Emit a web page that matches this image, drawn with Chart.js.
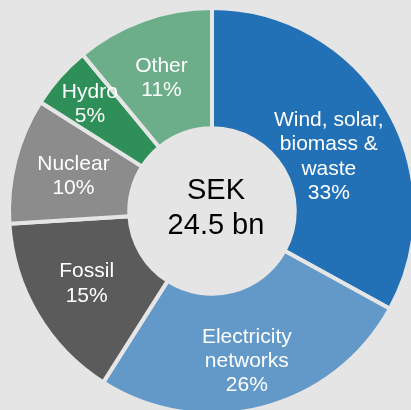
<!DOCTYPE html>
<html>
<head>
<meta charset="utf-8">
<script src="https://cdn.jsdelivr.net/npm/chart.js@4/dist/chart.umd.min.js"></script>
<style>
  html, body { margin: 0; padding: 0; background: #e5e5e5; }
  canvas { display: block; }
</style>
</head>
<body>
<canvas id="spendChart" width="411" height="410"></canvas>
<script>
const categories = [
  ['Wind, solar,', 'biomass &', 'waste'],
  ['Electricity', 'networks'],
  ['Fossil'],
  ['Nuclear'],
  ['Hydro'],
  ['Other'],
]
const shares = [33, 26, 15, 10, 5, 11]
const totalLabel = ['SEK', '24.5 bn']

const sliceColors = ['#2270b6', '#6399c8', '#5b5b5b', '#8c8c8c', '#2e8f59', '#6dae8a']
const fontFamily = "'Liberation Sans', Arial, sans-serif"

const sliceLabels = {
  id: 'sliceLabels',
  afterDatasetsDraw(chart, args, opts) {
    const { ctx } = chart
    const arcs = chart.getDatasetMeta(0).data
    ctx.save()
    ctx.fillStyle = '#ffffff'
    ctx.font = `${opts.size}px ${fontFamily}`
    ctx.textAlign = 'center'
    ctx.textBaseline = 'alphabetic'
    arcs.forEach((arc, i) => {
      const p = arc.getProps(['x', 'y', 'startAngle', 'endAngle', 'innerRadius', 'outerRadius'], true)
      const angle = (p.startAngle + p.endAngle) / 2 + (opts.angleShift[i] * Math.PI) / 180
      const r = p.innerRadius + (p.outerRadius - p.innerRadius) * opts.depth[i]
      const cx = p.x + r * Math.cos(angle)
      const cy = p.y + r * Math.sin(angle)
      const lines = [...categories[i], `${shares[i]}%`]
      const first = cy - ((lines.length - 1) * opts.lineHeight) / 2
      lines.forEach((line, j) => {
        ctx.fillText(line, cx, first + j * opts.lineHeight + opts.size * 0.358)
      })
    })
    ctx.restore()
  },
}

const centerTotal = {
  id: 'centerTotal',
  afterDatasetsDraw(chart, args, opts) {
    const { ctx } = chart
    const arc = chart.getDatasetMeta(0).data[0]
    const { x, y } = arc.getProps(['x', 'y'], true)
    ctx.save()
    ctx.fillStyle = '#000000'
    ctx.font = `${opts.size}px ${fontFamily}`
    ctx.textAlign = 'center'
    ctx.textBaseline = 'alphabetic'
    const cx = x + opts.dx
    const cy = y + opts.dy
    const first = cy - ((totalLabel.length - 1) * opts.lineHeight) / 2
    totalLabel.forEach((line, j) => {
      ctx.fillText(line, cx, first + j * opts.lineHeight + opts.size * 0.358)
    })
    ctx.restore()
  },
}

new Chart(document.getElementById('spendChart'), {
  type: 'doughnut',
  data: {
    labels: categories.map((c) => c.join(' ')),
    datasets: [
      {
        data: shares,
        backgroundColor: sliceColors,
        borderColor: '#e5e5e5',
        borderWidth: 4,
      },
    ],
  },
  options: {
    responsive: false,
    animation: false,
    events: [],
    radius: 203,
    cutout: 80.3,
    layout: { padding: { left: 13, top: 12 } },
    plugins: {
      legend: { display: false },
      tooltip: { enabled: false },
      sliceLabels: {
        size: 21,
        lineHeight: 24.3,
        depth: [0.389, 0.581, 0.509, 0.503, 0.672, 0.505],
        angleShift: [5, 1.2, 1.1, 0.3, 0.3, -0.8],
      },
      centerTotal: { size: 29, lineHeight: 35, dx: 4, dy: -4.6 },
    },
  },
  plugins: [sliceLabels, centerTotal],
})
</script>
</body>
</html>
